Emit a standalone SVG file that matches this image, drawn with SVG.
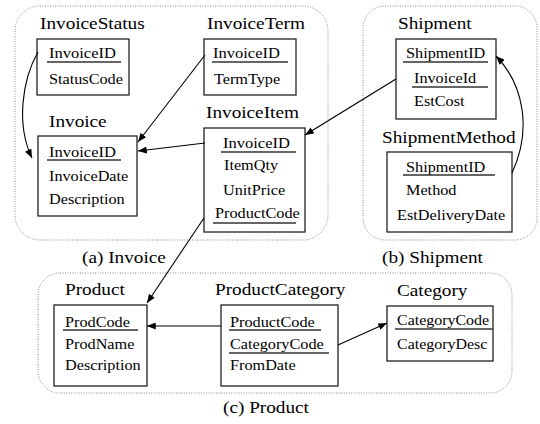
<svg xmlns="http://www.w3.org/2000/svg" width="540" height="424" viewBox="0 0 540 424" font-family="Liberation Serif, serif">
<style>
text{font-family:"Liberation Serif","Times New Roman",serif;fill:#000}
.t{font-size:17.5px}
.f{font-size:14.5px}
.box{fill:#fff;stroke:#222;stroke-width:1.3}
.ul{stroke:#333;stroke-width:1.3}
.grp{fill:none;stroke:#888;stroke-width:1;stroke-dasharray:1 1.5}
.c{fill:none;stroke:#000;stroke-width:1.1;marker-end:url(#ah)}
</style>
<defs>
<marker id="ah" viewBox="0 0 10 8" markerWidth="9" markerHeight="7" refX="10" refY="4" orient="auto" markerUnits="userSpaceOnUse">
<path d="M0,0 L10,4 L0,8 z" fill="#000"/>
</marker>
</defs>
<g id="groups">
<rect class="grp" x="15" y="6" width="313" height="234" rx="25"/>
<rect class="grp" x="363" y="6" width="174" height="234" rx="22"/>
<rect class="grp" x="38" y="273" width="474" height="120" rx="22"/>
<text class="t" transform="translate(82,263) scale(1.1,1)">(a) Invoice</text>
<text class="t" transform="translate(382,263) scale(1.1,1)">(b) Shipment</text>
<text class="t" transform="translate(223,413) scale(1.1,1)">(c) Product</text>
</g>
<g id="InvoiceStatus">
<text class="t" transform="translate(40,29) scale(1.1,1)">InvoiceStatus</text>
<rect class="box" x="37" y="39" width="92" height="56"/>
<text class="f" transform="translate(49,58) scale(1.14,1)">InvoiceID</text>
<line class="ul" x1="47" y1="62" x2="121" y2="62"/>
<text class="f" transform="translate(49,84) scale(1.12,1)">StatusCode</text>
</g>
<g id="Invoice">
<text class="t" transform="translate(49,127) scale(1.1,1)">Invoice</text>
<rect class="box" x="38" y="136" width="99" height="80"/>
<text class="f" transform="translate(49,157) scale(1.14,1)">InvoiceID</text>
<line class="ul" x1="47" y1="160" x2="121" y2="160"/>
<text class="f" transform="translate(49,181) scale(1.12,1)">InvoiceDate</text>
<text class="f" transform="translate(49,204) scale(1.12,1)">Description</text>
</g>
<g id="InvoiceTerm">
<text class="t" transform="translate(207,29) scale(1.1,1)">InvoiceTerm</text>
<rect class="box" x="204" y="39" width="92" height="56"/>
<text class="f" transform="translate(213,58) scale(1.14,1)">InvoiceID</text>
<line class="ul" x1="212" y1="62" x2="288" y2="62"/>
<text class="f" transform="translate(214,84) scale(1.12,1)">TermType</text>
</g>
<g id="InvoiceItem">
<text class="t" transform="translate(206,118) scale(1.1,1)">InvoiceItem</text>
<rect class="box" x="204" y="128" width="101" height="104"/>
<text class="f" transform="translate(223,148) scale(1.14,1)">InvoiceID</text>
<line class="ul" x1="221" y1="152" x2="296" y2="152"/>
<text class="f" transform="translate(224,170) scale(1.12,1)">ItemQty</text>
<text class="f" transform="translate(223,195) scale(1.12,1)">UnitPrice</text>
<text class="f" transform="translate(215,218) scale(1.12,1)">ProductCode</text>
<line class="ul" x1="213" y1="223" x2="296" y2="223"/>
</g>
<g id="Shipment">
<text class="t" transform="translate(398,29) scale(1.1,1)">Shipment</text>
<rect class="box" x="396" y="39" width="100" height="80"/>
<text class="f" transform="translate(406,58) scale(1.12,1)">ShipmentID</text>
<line class="ul" x1="403" y1="62" x2="488" y2="62"/>
<text class="f" transform="translate(414,83) scale(1.12,1)">InvoiceId</text>
<line class="ul" x1="412" y1="87" x2="488" y2="87"/>
<text class="f" transform="translate(414,106) scale(1.12,1)">EstCost</text>
</g>
<g id="ShipmentMethod">
<text class="t" transform="translate(382,143) scale(1.1,1)">ShipmentMethod</text>
<rect class="box" x="387" y="152" width="125" height="80"/>
<text class="f" transform="translate(406,172) scale(1.12,1)">ShipmentID</text>
<line class="ul" x1="403" y1="175" x2="495" y2="175"/>
<text class="f" transform="translate(406,195) scale(1.12,1)">Method</text>
<text class="f" transform="translate(397,220) scale(1.12,1)">EstDeliveryDate</text>
</g>
<g id="Product">
<text class="t" transform="translate(65,295) scale(1.1,1)">Product</text>
<rect class="box" x="54" y="305" width="93" height="81"/>
<text class="f" transform="translate(65,327) scale(1.12,1)">ProdCode</text>
<line class="ul" x1="63" y1="330" x2="138" y2="330"/>
<text class="f" transform="translate(65,349) scale(1.12,1)">ProdName</text>
<text class="f" transform="translate(65,370) scale(1.12,1)">Description</text>
</g>
<g id="ProductCategory">
<text class="t" transform="translate(215,295) scale(1.1,1)">ProductCategory</text>
<rect class="box" x="221" y="305" width="117" height="81"/>
<text class="f" transform="translate(230,327) scale(1.12,1)">ProductCode</text>
<line class="ul" x1="229" y1="330" x2="321" y2="330"/>
<text class="f" transform="translate(230,349) scale(1.12,1)">CategoryCode</text>
<line class="ul" x1="229" y1="353" x2="329" y2="353"/>
<text class="f" transform="translate(230,370) scale(1.12,1)">FromDate</text>
</g>
<g id="Category">
<text class="t" transform="translate(397,296) scale(1.1,1)">Category</text>
<rect class="box" x="387" y="306" width="106" height="55"/>
<text class="f" transform="translate(397,325) scale(1.1,1)">CategoryCode</text>
<line class="ul" x1="395" y1="329" x2="493" y2="329"/>
<text class="f" transform="translate(397,349) scale(1.1,1)">CategoryDesc</text>
</g>
<g id="connectors">
<path class="c" d="M38,52 C22,80 16,125 32,158"/>
<path class="c" d="M205,55 L138,142"/>
<path class="c" d="M205,143 L138,151"/>
<path class="c" d="M396,79 L305,135"/>
<path class="c" d="M512,173 C532,130 524,85 496,56"/>
<path class="c" d="M204,218 L147,303"/>
<path class="c" d="M221,326 L147,326"/>
<path class="c" d="M338,345 L387,323"/>
</g>
</svg>
